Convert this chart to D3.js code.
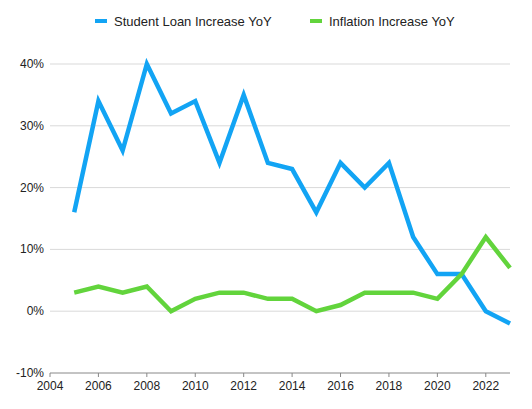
<!DOCTYPE html>
<html><head><meta charset="utf-8">
<script src="https://cdn.jsdelivr.net/npm/d3@7"></script>
<style>body{margin:0;background:#fff}text{font-family:"Helvetica Neue",Arial,"Liberation Sans",sans-serif}</style>
</head><body><svg id="c" width="532" height="409"></svg>
<script>
const years=[2005,2006,2007,2008,2009,2010,2011,2012,2013,2014,2015,2016,2017,2018,2019,2020,2021,2022,2023];
const studentLoan=[16,34,26,40,32,34,24,35,24,23,16,24,20,24,12,6,6,0,-2];
const inflation=[3,4,3,4,0,2,3,3,2,2,0,1,3,3,3,2,6,12,7];
const xTicks=[2004,2006,2008,2010,2012,2014,2016,2018,2020,2022];
const yTicks=[-10,0,10,20,30,40];
const seriesNames=["Student Loan Increase YoY","Inflation Increase YoY"];
const colors=["#12a4f4","#62d43c"];

const svg=d3.select("#c");
const x=d3.scaleLinear().domain([2004,2023]).range([50,510]);
const y=d3.scaleLinear().domain([-10,40]).range([373,64]);
svg.append("g").selectAll("line").data(yTicks.filter(d=>d>-10)).join("line")
 .attr("x1",50).attr("x2",510).attr("y1",d=>y(d)).attr("y2",d=>y(d)).attr("stroke","#d9d9d9");
svg.append("line").attr("x1",50).attr("x2",510).attr("y1",y(-10)).attr("y2",y(-10)).attr("stroke","#888");
svg.append("g").selectAll("text").data(yTicks).join("text")
 .attr("x",44).attr("y",d=>y(d)+4).attr("text-anchor","end").attr("font-size",12).attr("fill","#222").text(d=>d+"%");
svg.append("g").selectAll("text").data(xTicks).join("text")
 .attr("x",d=>x(d)).attr("y",y(-10)+17).attr("text-anchor","middle").attr("font-size",12).attr("fill","#222").text(d=>d);
svg.append("g").selectAll("line").data(xTicks).join("line")
 .attr("x1",d=>x(d)).attr("x2",d=>x(d)).attr("y1",y(-10)).attr("y2",y(-10)+4).attr("stroke","#888");
const line=d3.line().x((d,i)=>x(years[i])).y(d=>y(d));
[studentLoan,inflation].forEach((s,k)=>{
 svg.append("path").attr("d",line(s)).attr("fill","none").attr("stroke",colors[k]).attr("stroke-width",4.5).attr("stroke-linejoin","miter");
});
const lx=[95,310];
seriesNames.forEach((n,k)=>{
 svg.append("line").attr("x1",lx[k]).attr("x2",lx[k]+12).attr("y1",21).attr("y2",21).attr("stroke",colors[k]).attr("stroke-width",4);
 svg.append("text").attr("x",lx[k]+19).attr("y",25.5).attr("font-size",13).attr("fill","#222").text(n);
});
</script></body></html>
